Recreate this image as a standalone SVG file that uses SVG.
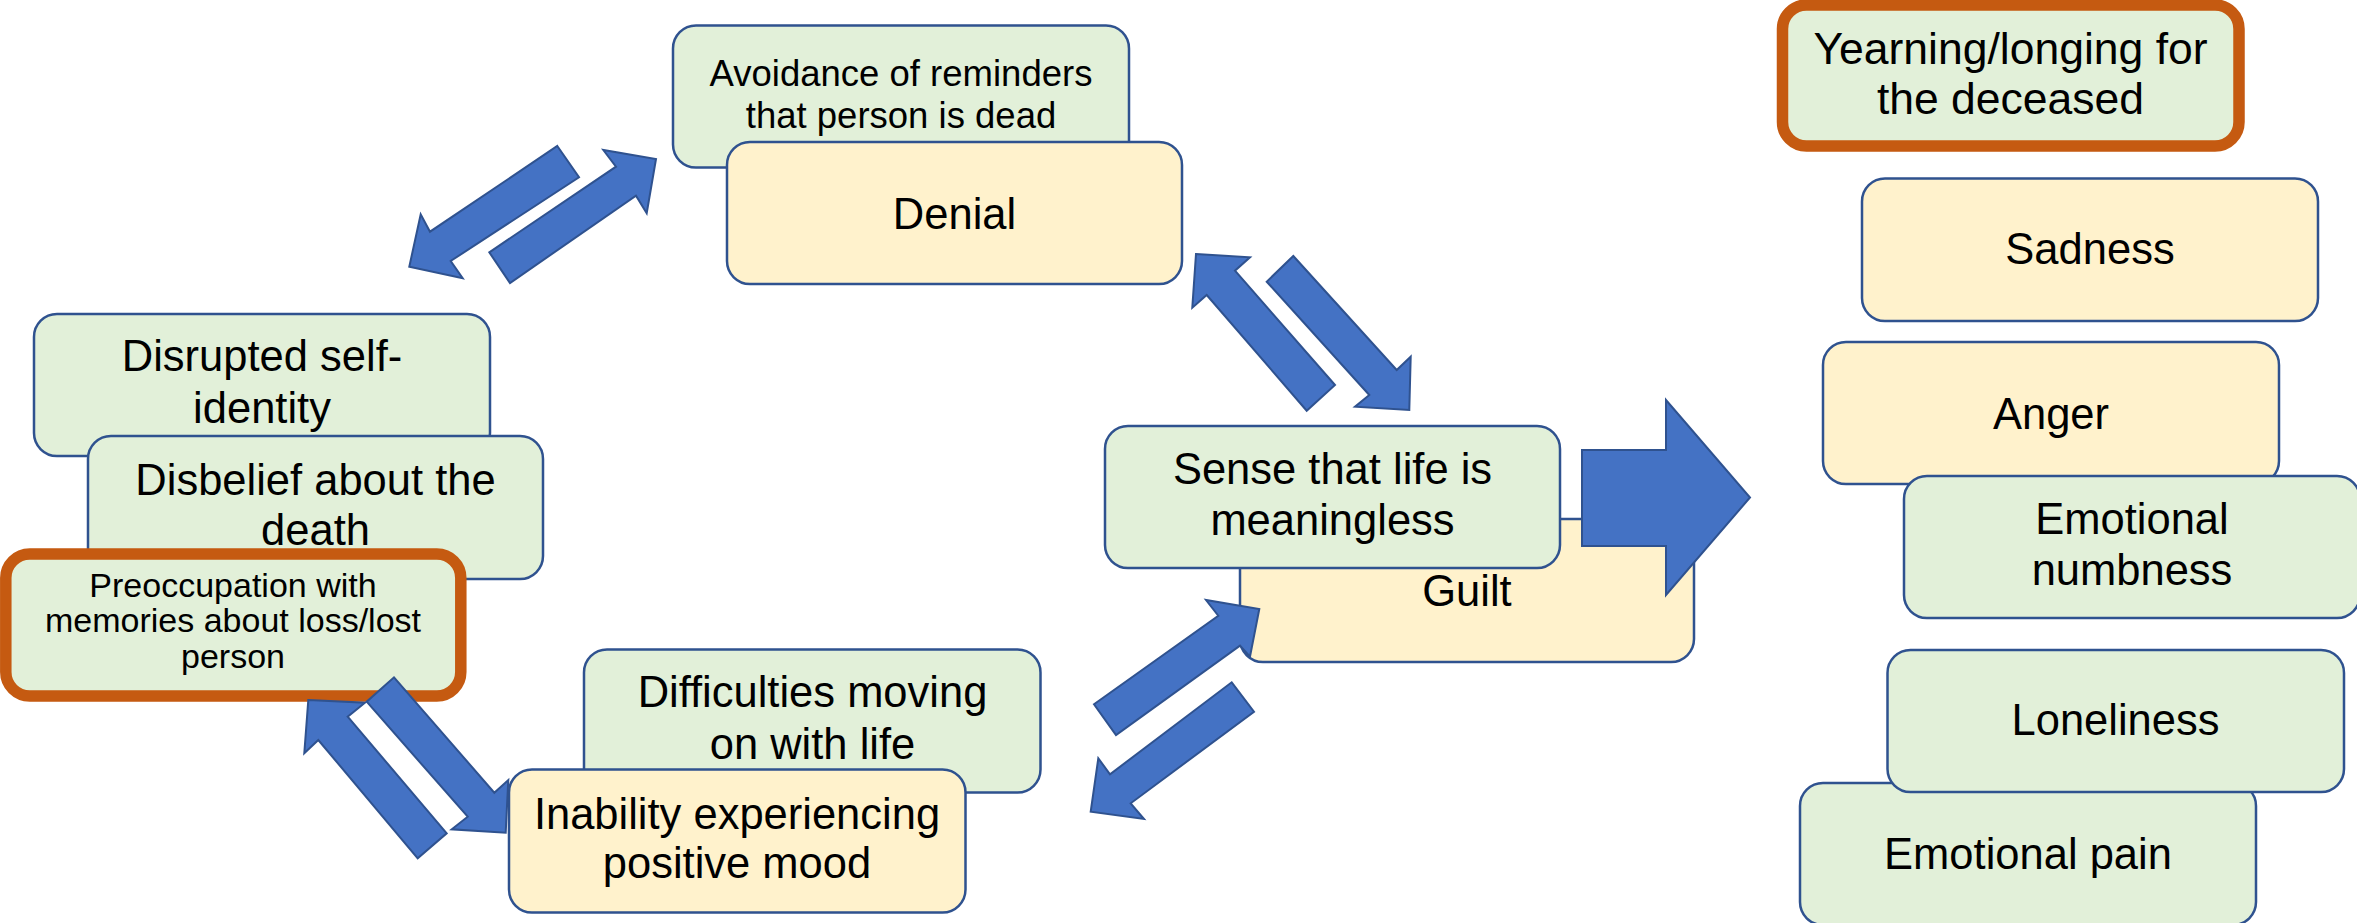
<svg xmlns="http://www.w3.org/2000/svg" width="2357" height="923" viewBox="0 0 2357 923">
<style>
.box{stroke:#2F528F;stroke-width:2.5}
.g{fill:#E2F0D9}
.y{fill:#FFF2CC}
.o{fill:#E2F0D9;stroke:#C55A11;stroke-width:11.5}
.t{font-family:"Liberation Sans",Arial,sans-serif;fill:#000;text-anchor:middle}
.L{font-size:43.5px}
.M{font-size:36.5px}
.S{font-size:34px}
.Y{font-size:44.5px}
.arr{fill:#4472C4;stroke:#2F528F;stroke-width:2;stroke-linejoin:miter}
</style>
<rect width="2357" height="923" fill="#fff"/>

<g id="node-avoidance">
<rect class="box g" x="673" y="25.5" width="456" height="142" rx="23"/>
<text class="t M" x="901" y="86">Avoidance of reminders</text>
<text class="t M" x="901" y="128">that person is dead</text>
</g>
<g id="node-denial">
<rect class="box y" x="727" y="142" width="455" height="142" rx="23"/>
<text class="t L" x="954.5" y="228.5">Denial</text>
</g>

<g id="node-disrupted">
<rect class="box g" x="34" y="314" width="456" height="142" rx="23"/>
<text class="t L" x="262" y="371">Disrupted self-</text>
<text class="t L" x="262" y="423">identity</text>
</g>
<g id="node-disbelief">
<rect class="box g" x="88" y="436" width="455" height="143" rx="23"/>
<text class="t L" x="315.5" y="494.5">Disbelief about the</text>
<text class="t L" x="315.5" y="545">death</text>
</g>
<g id="node-preoccupation">
<rect class="o" x="5.8" y="554" width="455" height="142" rx="24"/>
<text class="t S" x="233" y="597">Preoccupation with</text>
<text class="t S" x="233" y="632">memories about loss/lost</text>
<text class="t S" x="233" y="668">person</text>
</g>

<g id="node-difficulties">
<rect class="box g" x="584" y="649.5" width="456.5" height="143" rx="23"/>
<text class="t L" x="812.5" y="707">Difficulties moving</text>
<text class="t L" x="812.5" y="758.5">on with life</text>
</g>
<g id="node-inability">
<rect class="box y" x="509" y="769.5" width="456.5" height="143" rx="23"/>
<text class="t L" x="737" y="828.5">Inability experiencing</text>
<text class="t L" x="737" y="878">positive mood</text>
</g>

<g id="node-guilt">
<rect class="box y" x="1240" y="519" width="454" height="143" rx="23"/>
<text class="t L" x="1467" y="606">Guilt</text>
</g>
<g id="node-sense">
<rect class="box g" x="1105" y="426" width="455" height="142" rx="23"/>
<text class="t L" x="1332.5" y="483.5">Sense that life is</text>
<text class="t L" x="1332.5" y="535">meaningless</text>
</g>

<g id="node-yearning">
<rect class="o" x="1782.5" y="5" width="456.5" height="141" rx="24"/>
<text class="t Y" x="2010.5" y="63.5">Yearning/longing for</text>
<text class="t Y" x="2010.5" y="113.5">the deceased</text>
</g>
<g id="node-sadness">
<rect class="box y" x="1862" y="178.5" width="456" height="142.5" rx="23"/>
<text class="t L" x="2090" y="264">Sadness</text>
</g>
<g id="node-anger">
<rect class="box y" x="1823" y="342" width="456" height="142" rx="23"/>
<text class="t L" x="2051" y="428.5">Anger</text>
</g>
<g id="node-numbness">
<rect class="box g" x="1904" y="476" width="456" height="142" rx="23"/>
<text class="t L" x="2132" y="533.5">Emotional</text>
<text class="t L" x="2132" y="585">numbness</text>
</g>
<g id="node-pain">
<rect class="box g" x="1800" y="783" width="456" height="142" rx="23"/>
<text class="t L" x="2028" y="868.5">Emotional pain</text>
</g>
<g id="node-loneliness">
<rect class="box g" x="1887.5" y="650" width="456.5" height="142" rx="23"/>
<text class="t L" x="2115.5" y="735">Loneliness</text>
</g>

<g id="connectors">
<polygon class="arr" points="557.3,146 579,177.3 450.7,261 462.7,278.3 409.3,266.7 420.7,214.3 430,231.7"/>
<polygon class="arr" points="489.3,252.3 616,166.7 603.3,150 656,159 646.7,213.3 636,195.7 510,283"/>
<polygon class="arr" points="1196,254 1250,257.3 1235,270.7 1335,385 1306.7,410.7 1206.7,295 1192.3,307.7"/>
<polygon class="arr" points="1293.3,256 1396.7,370 1410.7,356.7 1409.3,410 1355,406.7 1369.3,395 1266.7,281.7"/>
<polygon class="arr" points="1094,704.3 1218.3,615.7 1206,600 1259.3,609 1250,656.7 1240,645.7 1116,735"/>
<polygon class="arr" points="1231.7,682.3 1254,711.7 1130.7,803.3 1144,819 1090.7,811.7 1098.3,758.3 1110,774.3"/>
<polygon class="arr" points="308.3,700 365,702.7 347.7,716.7 446.7,833.3 417.7,858.3 318.3,740 304.3,753.3"/>
<polygon class="arr" points="394,677.3 494.3,792.7 508.3,780 505.7,832.7 451.7,829.3 467.7,816.7 366.7,701.7"/>
<polygon class="arr" points="1582,450 1666,450 1666,400 1750,497.5 1666,595 1666,546 1582,546"/>
</g>
</svg>
